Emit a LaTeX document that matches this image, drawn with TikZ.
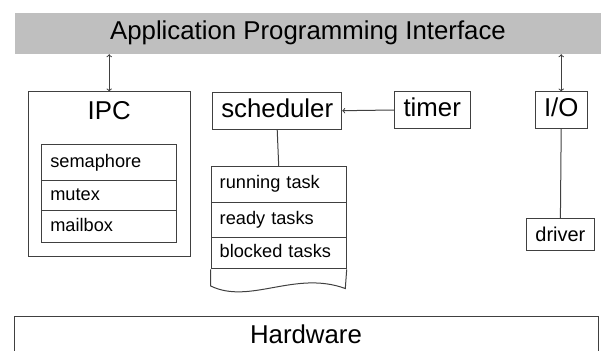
\documentclass[tikz,border=0pt]{standalone}
\usepackage{fontspec}
\setmainfont{Liberation Sans}
\usetikzlibrary{arrows}
\tikzstyle{block}=[draw=black!75,line width=1pt,inner sep=0pt]
\tikzstyle{big}=[font=\fontsize{25.8}{30}\selectfont,text height=18pt,text depth=5pt]
\tikzstyle{small}=[font=\fontsize{18.2}{21}\selectfont,text height=13pt,text depth=4pt]
\tikzstyle{mid}=[font=\fontsize{20}{23}\selectfont,text height=14.4pt,text depth=0pt]
\tikzstyle{entry}=[block,small,anchor=north west,minimum width=135pt,text width=118pt,inner xsep=8.5pt,align=left]
\tikzstyle{link}=[draw=black!75,line width=1pt]

\begin{document}
\begin{tikzpicture}[x=1pt,y=-1pt]
    \useasboundingbox (0,0) rectangle (601,350);
    \clip (0,0) rectangle (601,350);
    % Interface bar on top, hardware at the bottom
    \node[big,fill=black!25,minimum width=586pt,minimum height=41pt,inner sep=0pt] (api) at (308,33.5) {Application Programming Interface};
    \node[block,big,anchor=north,minimum width=584pt,minimum height=40.4pt] (hw) at (306,316) {Hardware};

    % The kernel parts
    \node[block,minimum width=161.7pt,minimum height=164.7pt] (ipc) at (109.2,174.3) {};
    \node[big] (ipclabel) at (109.2,112.8) {IPC};
    \node[block,big,minimum width=129pt,minimum height=36.7pt] (sched) at (277.2,110.7) {scheduler};
    \node[block,big,minimum width=75.7pt,minimum height=36.6pt] (timer) at (432.2,110) {timer};
    \node[block,big,minimum width=52.3pt,minimum height=36pt] (io) at (561.2,110) {I/O};
    \node[block,mid,minimum width=67.3pt,minimum height=32.4pt] (driver) at (560.4,234.5) {driver};

    % Lists of entries
    \foreach \pos/\h/\name/\txt in {{(41.3,144.3)/35.7/sem/semaphore}, {(41.3,180)/30.3/mutex/mutex}, {(41.3,210.3)/31.7/mbox/mailbox},
        {(210.7,166)/35.7/running/running task}, {(210.7,201.7)/35.6/ready/ready tasks}, {(210.7,237.3)/31/blocked/blocked tasks}}
        \node[entry,minimum height=\h] (\name) at \pos {\txt};

    % Torn end of the task list
    \coordinate (tailL) at (210.7,286);
    \coordinate (tailR) at (345.3,288.5);
    \draw[link] (blocked.south west) -- (tailL) .. controls (250,305) and (295,270) .. (tailR) -- (blocked.south east);

    % Connect the parts
    \draw[link,<->] (ipc.north |- api.south) -- (ipc.north);
    \draw[link,<->] (io.north |- api.south) -- (io.north);
    \draw[link,->] (timer.west) -- (sched.east);
    \foreach \source/\dest in {sched/running, io/driver}
        \path[link] (\source.south) -- (\dest.north);
\end{tikzpicture}
\end{document}
